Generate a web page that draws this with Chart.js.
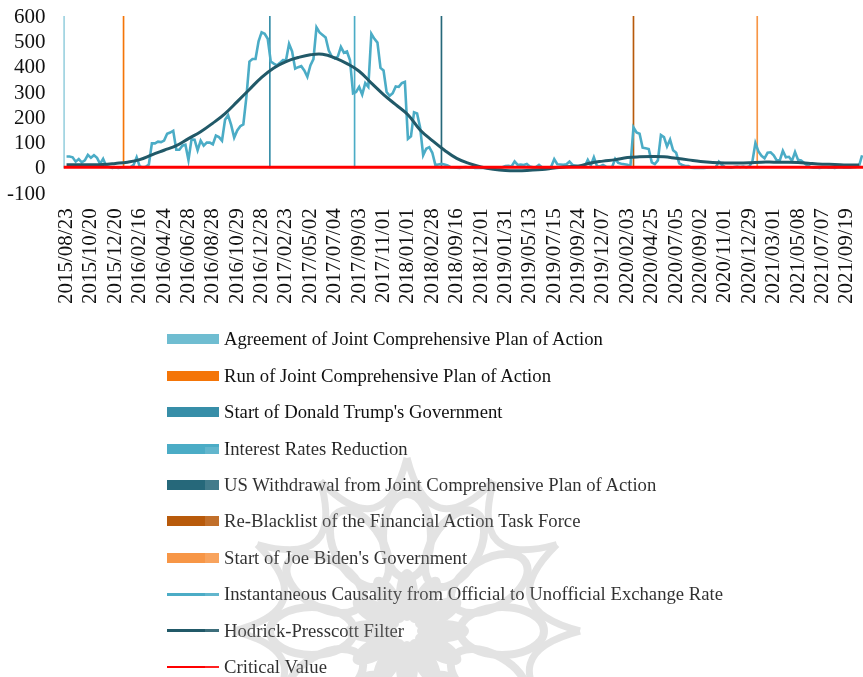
<!DOCTYPE html>
<html>
<head>
<meta charset="utf-8">
<script src="https://cdn.jsdelivr.net/npm/chart.js@4/dist/chart.umd.min.js"></script>
<style>
  html, body { margin: 0; padding: 0; background: #fff; overflow: hidden; }
  #wrap { position: relative; width: 863px; height: 677px; overflow: hidden; }
  #legend { position: absolute; left: 167px; top: 321.3px; font: 18.7px "Liberation Serif", serif; color: #111; }
  .row { display: flex; align-items: center; height: 36.4px; white-space: nowrap; }
  .swatch { width: 52px; margin-right: 5px; }
  #wash { position: absolute; left: 205px; top: 447px; right: 0; bottom: 0; pointer-events: none; background: rgba(255,255,255,.13); }
  #mark { position: absolute; left: 0; top: 0; pointer-events: none; opacity: .27; }
</style>
</head>
<body>
<div id="wrap">
  <canvas id="chartCanvas" width="863" height="677"></canvas>
  <div id="legend"></div>
  <div id="wash"></div>
  <svg id="mark" width="863" height="677"></svg>
</div>
<script>
const tickLabels = ['2015/08/23','2015/10/20','2015/12/20','2016/02/16','2016/04/24','2016/06/28','2016/08/28','2016/10/29','2016/12/28','2017/02/23','2017/05/02','2017/07/04','2017/09/03','2017/11/01','2018/01/01','2018/02/28','2018/09/16','2018/12/01','2019/01/31','2019/05/13','2019/07/15','2019/09/24','2019/12/07','2020/02/03','2020/04/25','2020/07/05','2020/09/02','2020/11/01','2020/12/29','2021/03/01','2021/05/08','2021/07/07','2021/09/19'];

// one value per sample, 8 samples between two tick labels
const causality = [null,45,45,42,25,35,22,30,52,40,50,40,16,36,8,4,0,2,0,2,3,2,4,12,42,6,3,5,14,97,97,104,102,108,135,140,147,72,72,88,92,31,113,112,70,108,88,100,100,93,128,122,108,190,208,170,120,148,165,172,280,420,430,430,500,536,530,510,420,412,405,415,426,425,490,460,392,398,402,385,360,405,430,555,535,525,515,465,440,432,440,478,455,460,425,295,300,320,290,335,320,530,510,495,395,385,300,285,295,322,320,335,340,115,125,220,215,160,50,76,82,60,12,14,16,14,10,3,2,1,0,3,4,2,2,0,1,0,0,0,1,2,2,1,3,8,9,6,26,12,13,12,16,6,3,4,12,3,2,0,5,35,15,14,13,15,25,12,9,6,5,6,32,10,42,8,6,12,5,4,4,36,20,17,15,13,8,160,140,135,80,78,75,22,15,30,130,122,85,112,70,60,18,12,8,8,1,0,0,0,0,1,2,2,3,25,12,4,2,1,4,6,4,6,3,6,25,98,65,48,38,60,62,50,30,30,68,42,44,28,63,32,30,20,10,4,1,2,0,2,3,1,2,0,2,3,1,2,1,3,4,8,50];

// Hodrick-Prescott curve, read every 4 samples starting at sample 1
const hpFilter = [13,13,13,14,18,23,33,52,70,88,116,143,177,215,262,310,358,395,420,436,447,449,435,412,382,335,290,250,210,150,108,70,38,18,4,-5,-10,-11,-9,-6,0,5,8,20,27,33,41,44,45,44,38,32,26,22,20,20,21,23,23,23,22,18,15,14,12,12];

const criticalValue = 3;

// events, position is the sample number on the x axis
const eventNames = ['Agreement of Joint Comprehensive Plan of Action','Run of Joint Comprehensive Plan of Action',"Start of Donald Trump's Government",'Interest Rates Reduction','US Withdrawal from Joint Comprehensive Plan of Action','Re-Blacklist of the Financial Action Task Force',"Start of Joe Biden's Government"];
const eventSamples = [0.1, 19.7, 67.7, 95.5, 124, 187, 227.6];
const eventColors = ['#6fbdd1','#f47508','#378ea8','#4bacc6','#26687a','#b85a0b','#f79646'];
const eventHeight = 600;

const lastSample = 262.3;

const bars = eventNames.map((name, k) => ({
    type: 'bar',
    label: name,
    data: [{ x: eventSamples[k], y: eventHeight }],
    backgroundColor: eventColors[k],
    barThickness: 1,
    grouped: false,
    order: 3
}));

const lines = [
    {
        type: 'line',
        label: 'Instantaneous Causality from Official to Unofficial Exchange Rate',
        data: causality.map((v, i) => ({ x: i, y: v })),
        borderColor: '#4bacc6',
        backgroundColor: '#4bacc6',
        borderWidth: 2.6,
        pointRadius: 0,
        order: 2
    },
    {
        type: 'line',
        label: 'Hodrick-Presscott Filter',
        data: hpFilter.map((v, k) => ({ x: 1 + k * 4, y: v })),
        borderColor: '#215968',
        backgroundColor: '#215968',
        borderWidth: 3,
        pointRadius: 0,
        tension: 0.4,
        order: 1
    },
    {
        type: 'line',
        label: 'Critical Value',
        data: [{ x: 0, y: criticalValue }, { x: lastSample, y: criticalValue }],
        borderColor: '#ff0000',
        backgroundColor: '#ff0000',
        borderWidth: 3,
        pointRadius: 0,
        order: 0
    }
];

const tickFont = { family: '"Liberation Serif", serif', size: 21 };

const chart = new Chart(document.getElementById('chartCanvas').getContext('2d'), {
    data: { datasets: [...bars, ...lines] },
    options: {
        responsive: false,
        animation: false,
        layout: { padding: { top: 16, bottom: 363.7, left: 0, right: 0 } },
        plugins: { legend: { display: false }, tooltip: { enabled: false } },
        scales: {
            x: {
                type: 'linear',
                offset: false, // bar datasets turn this on otherwise
                min: 0,
                max: lastSample,
                grid: { display: false, offset: false },
                border: { display: false },
                afterFit: (scale) => {
                    scale.height = 120;
                    scale.paddingLeft = 0;
                    scale.paddingRight = 0;
                },
                ticks: {
                    stepSize: 8,
                    includeBounds: false,
                    autoSkip: false,
                    minRotation: 90,
                    maxRotation: 90,
                    padding: 7,
                    labelOffset: 3,
                    color: '#111',
                    font: tickFont,
                    callback: (v) => tickLabels[v / 8]
                }
            },
            y: {
                min: -100,
                max: 600,
                grid: { display: false, drawTicks: false },
                border: { display: false },
                afterFit: (scale) => {
                    scale.width = 63.5;
                    scale.paddingTop = 0;
                    scale.paddingBottom = 0;
                },
                ticks: { stepSize: 100, autoSkip: false, padding: 18, labelOffset: 1, color: '#111', font: tickFont }
            }
        }
    }
});

// html legend, one column
const legendBox = document.getElementById('legend');
chart.data.datasets.forEach((ds) => {
    const row = document.createElement('div');
    row.className = 'row';
    const swatch = document.createElement('div');
    swatch.className = 'swatch';
    swatch.style.height = ds.type === 'bar' ? '10px' : '2.6px';
    swatch.style.background = ds.backgroundColor;
    const text = document.createElement('span');
    text.textContent = ds.label;
    row.append(swatch, text);
    legendBox.appendChild(row);
});

// watermark of the publisher behind the legend
const svg = document.getElementById('mark');
const cx = 407, cy = 631, ns = 'http://www.w3.org/2000/svg';
function addShape(tag, attrs) {
    const el = document.createElementNS(ns, tag);
    Object.keys(attrs).forEach((a) => el.setAttribute(a, attrs[a]));
    svg.appendChild(el);
}
for (let k = 0; k < 12; k++) {
    const rot = 'rotate(' + k * 30 + ' ' + cx + ' ' + cy + ')';
    // pointed arc from one spike tip to the next
    const a = 15 * Math.PI / 180;
    const b = 30 * Math.PI / 180;
    const tipX = cx + 173 * Math.sin(b), tipY = cy - 173 * Math.cos(b);
    const ctlX = cx + 88 * Math.sin(a), ctlY = cy - 88 * Math.cos(a);
    addShape('path', { d: 'M' + cx + ' ' + (cy - 173) + ' Q' + ctlX + ' ' + ctlY + ' ' + tipX + ' ' + tipY, fill: 'none', stroke: '#999', 'stroke-width': 7, transform: rot });
    addShape('ellipse', { cx: cx, cy: cy - 95, rx: 24, ry: 42, fill: 'none', stroke: '#999', 'stroke-width': 8, transform: rot });
    addShape('ellipse', { cx: cx, cy: cy - 36, rx: 11, ry: 26, fill: '#999', transform: rot });
}
</script>
</body>
</html>
